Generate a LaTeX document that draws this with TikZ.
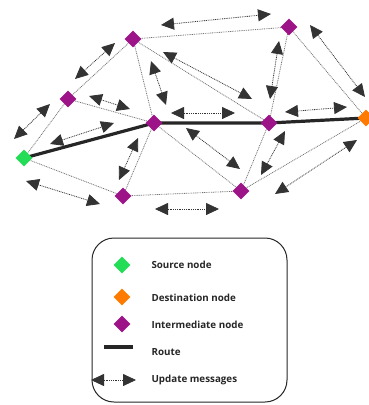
\documentclass[tikz,border=0pt]{standalone}
\usepackage{fontspec}
\setmainfont{Open Sans}
\usetikzlibrary{shapes.geometric,arrows.meta}
\definecolor{srcgreen}{HTML}{22DD55}
\definecolor{dstorange}{HTML}{FF7A00}
\definecolor{midpurple}{HTML}{9C1487}

\begin{document}
\begin{tikzpicture}[x=1pt,y=-1pt,
    hop/.style={diamond, minimum width=17pt, minimum height=17pt, inner sep=0pt, fill=midpurple},
    source/.style={hop, fill=srcgreen},
    target/.style={hop, fill=dstorange},
    link/.style={black!55, line width=0.8pt, dash pattern=on 0.9pt off 0.9pt},
    route/.style={black!85, line width=3.2pt},
    update/.style={black!80, line width=0.8pt, dash pattern=on 0.9pt off 0.9pt,
        {Triangle[length=13pt,width=12pt]}-{Triangle[length=13pt,width=12pt]}},
    legtext/.style={anchor=west, font=\bfseries\fontsize{9.8}{11}\selectfont, text=black!85}]
\useasboundingbox (0,0) rectangle (368,405);

% network
\coordinate (s) at (24,158);
\coordinate (a) at (68,99);
\coordinate (b) at (133,39);
\coordinate (c) at (154,123);
\coordinate (d) at (123,196);
\coordinate (e) at (241,191);
\coordinate (f) at (269,123);
\coordinate (g) at (289,27);
\coordinate (t) at (366,118);

\foreach \p/\q in {s/a,s/d,a/b,a/c,b/c,b/g,b/f,c/d,c/e,d/e,e/f,e/t,f/g,g/t}
  \draw[link] (\p) -- (\q);

\draw[route] (s) -- (c) -- (f) -- (t);

\node[source] (ns) at (s) {};
\node[target] (nt) at (t) {};
\foreach \p in {a,b,c,d,e,f,g}
  \node[hop] (n\p) at (\p) {};

% update messages
\foreach \n/\p/\q in {1/{161,25}/{271,14}, 2/{75,79}/{115,43}, 3/{14,139}/{50,104},
    4/{89,96}/{130,109}, 5/{50,144}/{114,123}, 6/{151,61}/{166,105},
    7/{163,52}/{252,99}, 8/{171,113}/{235,113}, 9/{279,41}/{270,99},
    10/{310,25}/{365,97}, 11/{285,112}/{347,107}, 12/{138,138}/{119,180},
    13/{186,128}/{240,169}, 14/{285,131}/{261,175}, 15/{357,140}/{275,194},
    16/{26,181}/{100,204}, 17/{155,209}/{219,209}}
{
  \coordinate (u\n a) at (\p);
  \coordinate (u\n b) at (\q);
  \draw[update] (u\n a) -- (u\n b);
}

% legend
\draw[black!85, line width=1pt, rounded corners=22pt] (92,238) rectangle (287,402);

\node[source] (ks) at (122,265) {};
\node[legtext] (ls) at (148,265) {Source node};
\node[target] (kt) at (122,297) {};
\node[legtext] (lt) at (148,298) {Destination node};
\node[hop] (kh) at (122,324) {};
\node[legtext] (lh) at (148,325) {Intermediate node};
\coordinate (kr1) at (104,347);
\coordinate (kr2) at (133,347);
\draw[route] (kr1) -- (kr2);
\node[legtext] (lr) at (148,352) {Route};
\coordinate (ku1) at (91,380);
\coordinate (ku2) at (136,380);
\draw[update] (ku1) -- (ku2);
\node[legtext] (lu) at (148,380) {Update messages};

\end{tikzpicture}
\end{document}
